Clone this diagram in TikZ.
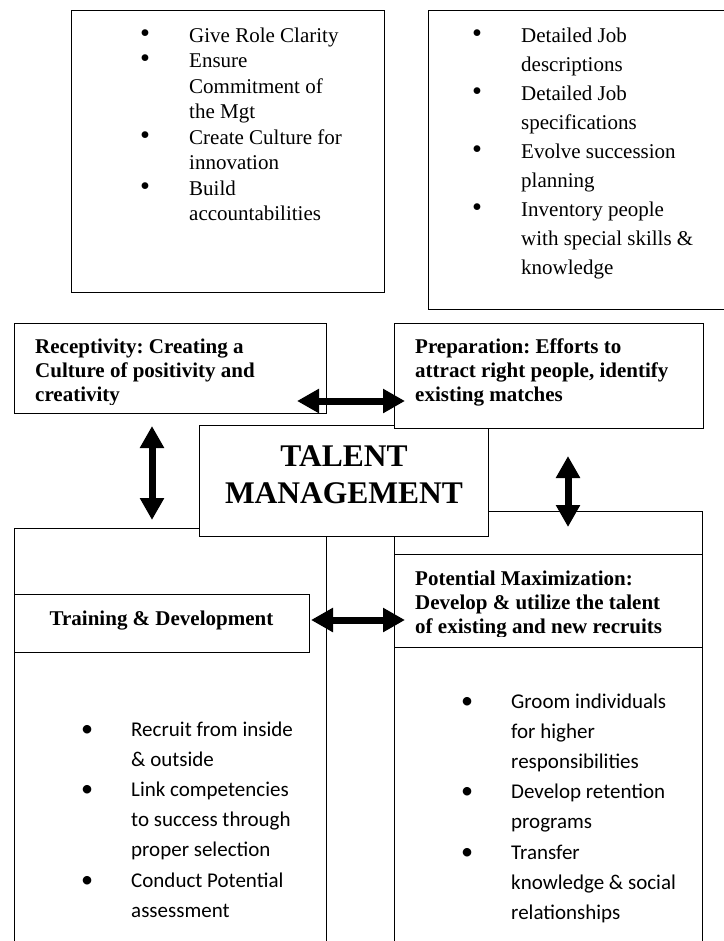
\documentclass[tikz,border=0pt]{standalone}
\usepackage{fontspec}
\usepackage{graphicx}
\setmainfont{Liberation Serif}
\newfontfamily\calib{Carlito}
\usetikzlibrary{arrows.meta}
\frenchspacing
\tikzset{
  box/.style={draw, line width=1.3pt, fill=white, inner sep=0pt, anchor=north west},
  dbl/.style={line width=7pt, {Triangle[width=23pt,length=22pt]}-{Triangle[width=23pt,length=22pt]}},
  txt/.style={inner sep=0pt, anchor=base west},
  serifl/.style={font=\fontsize{21}{25.5}\selectfont},
  serifr/.style={font=\fontsize{21}{29}\selectfont},
  head/.style={font=\bfseries\fontsize{21}{24}\selectfont},
  sansl/.style={font=\calib\fontsize{21}{30.2}\selectfont},
}
\newcommand{\bl}{\makebox[0pt]{\scalebox{1.35}{\textbullet}}\hspace{44pt}}
\newcommand{\bls}{\makebox[0pt]{\scalebox{1.15}{\textbullet}}\hspace{44pt}}
\newcommand{\ind}{\hspace{44pt}}
\begin{document}
\begin{tikzpicture}[x=1pt,y=-1pt]
\useasboundingbox (0,0) rectangle (723,941);
% big lower boxes
\node[box, minimum width=312pt, minimum height=430pt] (bigL) at (14,528) {};
\node[box, minimum width=308pt, minimum height=450pt] (bigR) at (394,511) {};
% central box
\node[box, minimum width=289pt, minimum height=111pt] (tm) at (199,425) {};
% top boxes
\node[box, minimum width=313pt, minimum height=282pt] (tl) at (71,10) {};
\node[box, minimum width=310pt, minimum height=299pt] (tr) at (428,10) {};
% header boxes
\node[box, minimum width=312pt, minimum height=90pt] (recep) at (14,323) {};
\node[box, minimum width=309pt, minimum height=105pt] (prep) at (394,323) {};
\node[box, minimum width=295pt, minimum height=58pt] (train) at (14,594) {};
\node[box, minimum width=308pt, minimum height=93pt] (potmax) at (394,554) {};

% arrows
\coordinate (a1l) at (297,401); \coordinate (a1r) at (405,401);
\coordinate (a2t) at (152,426); \coordinate (a2b) at (152,520);
\coordinate (a3t) at (568,456); \coordinate (a3b) at (568,527);
\coordinate (a4l) at (311,620); \coordinate (a4r) at (405,620);
\draw[dbl] (a1l) -- (a1r);
\draw[dbl] (a2t) -- (a2b);
\draw[dbl] (a3t) -- (a3b);
\draw[dbl] (a4l) -- (a4r);

% top-left list
\node[txt, serifl] (tltext) at (145,42.5) {\begin{tabular}[t]{@{}l@{}}
\bl Give Role Clarity\\
\bl Ensure\\
\ind Commitment of\\
\ind the Mgt\\
\bl Create Culture for\\
\ind innovation\\
\bl Build\\
\ind accountabilities
\end{tabular}};
% top-right list
\node[txt, serifr] (trtext) at (477,43) {\begin{tabular}[t]{@{}l@{}}
\bl Detailed Job\\
\ind descriptions\\
\bl Detailed Job\\
\ind specifications\\
\bl Evolve succession\\
\ind planning\\
\bl Inventory people\\
\ind with special skills \&\\
\ind knowledge
\end{tabular}};

% receptivity
\begin{scope}
\clip (14,323) rectangle (326,404);
\node[txt, head] (receptext) at (35,353) {\begin{tabular}[t]{@{}l@{}}
Receptivity: Creating a\\
Culture of positivity and\\
creativity
\end{tabular}};
\end{scope}
% preparation
\node[txt, head] (preptext) at (415,353) {\begin{tabular}[t]{@{}l@{}}
Preparation: Efforts to\\
attract right people, identify\\
existing matches
\end{tabular}};
% talent management
\node[inner sep=0pt, anchor=base, font=\bfseries\fontsize{31.5}{37}\selectfont] (tmtext) at (344,466) {\begin{tabular}[t]{@{}c@{}}
TALENT\\
MANAGEMENT
\end{tabular}};
% training
\node[inner sep=0pt, anchor=base, head] (traintext) at (161.5,625) {Training \& Development};
% potential maximization
\begin{scope}
\clip (394,554) rectangle (702,636);
\node[txt, head] (potmaxtext) at (415,585) {\begin{tabular}[t]{@{}l@{}}
Potential Maximization:\\
Develop \& utilize the talent\\
of existing and new recruits
\end{tabular}};
\end{scope}

% bottom-left list
\node[txt, sansl] (bltext) at (87,736) {\begin{tabular}[t]{@{}l@{}}
\bls Recruit from inside\\
\ind \& outside\\
\bls Link competencies\\
\ind to success through\\
\ind proper selection\\
\bls Conduct Potential\\
\ind assessment
\end{tabular}};
% bottom-right list
\node[txt, sansl] (brtext) at (467,708) {\begin{tabular}[t]{@{}l@{}}
\bls Groom individuals\\
\ind for higher\\
\ind responsibilities\\
\bls Develop retention\\
\ind programs\\
\bls Transfer\\
\ind knowledge \& social\\
\ind relationships
\end{tabular}};
\end{tikzpicture}
\end{document}
